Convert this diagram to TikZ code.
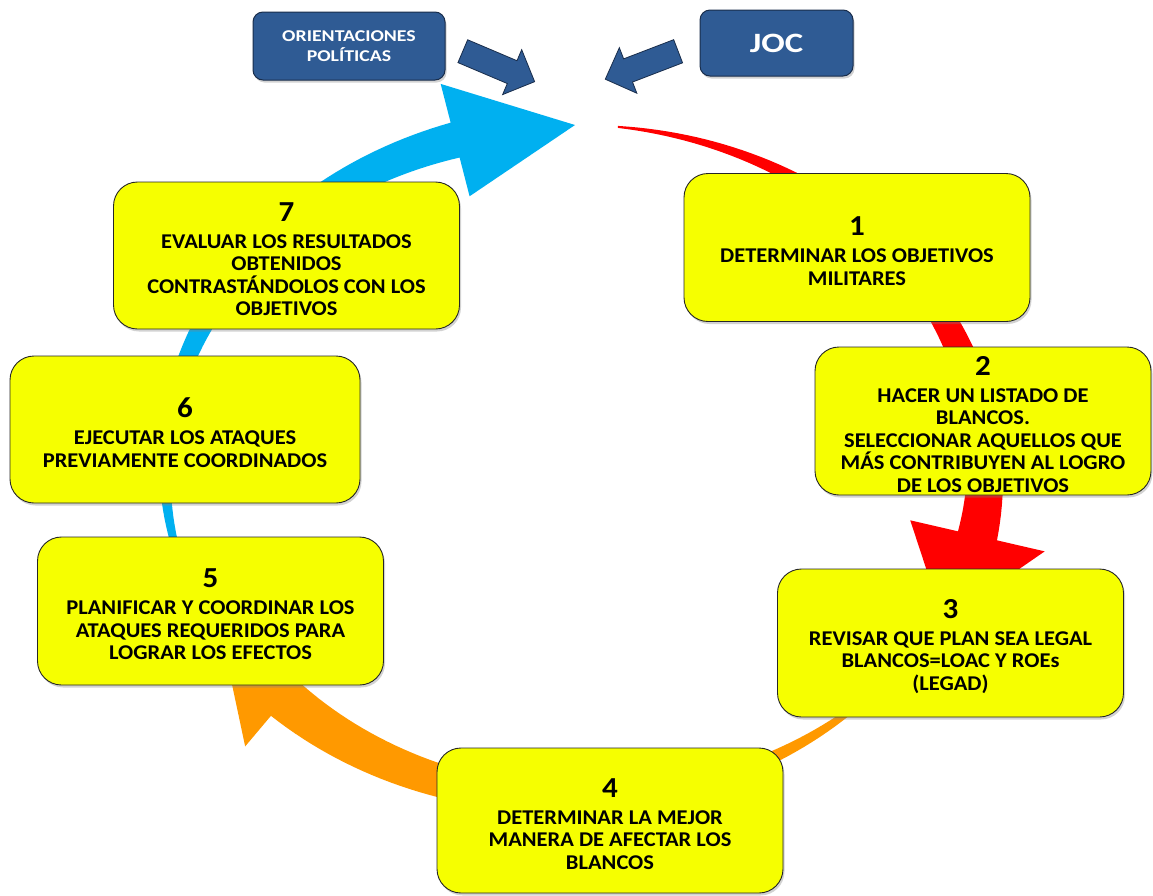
\documentclass[tikz,border=0pt]{standalone}
\usepackage{fontspec}
\newfontfamily\yfont{Carlito}[FakeStretch=1.07]
\newfontfamily\bfont{Carlito}[FakeStretch=1.2]
\newfontfamily\jfont{Carlito}[FakeStretch=1.24]
\usetikzlibrary{shapes.arrows,shadows}
\definecolor{boxyellow}{RGB}{246,255,0}
\definecolor{navy}{RGB}{47,91,148}
\definecolor{navyline}{RGB}{25,45,75}
\definecolor{arcred}{RGB}{255,0,0}
\definecolor{arcorange}{RGB}{255,153,0}
\definecolor{arcblue}{RGB}{0,176,240}
\newcommand\numfont{\fontsize{29}{29}\selectfont}
\newcommand\nm[1]{{\numfont\rule{0pt}{26pt}#1}}
% tapered elliptical arrow: #1 colour, #2 centre y, #3 start angle, #4 head-base angle,
% #5 start width, #6 end width, #7 half head width, #8 tip angle
\newcommand\tarr[8]{%
  \pgfmathsetmacro\bx{575+410*cos(#4)}%
  \pgfmathsetmacro\by{#2-345*sin(#4)}%
  \pgfmathsetmacro\nxx{nx(#4)}%
  \pgfmathsetmacro\nyy{ny(#4)}%
  \pgfmathsetmacro\tx{575+410*cos(#8)}%
  \pgfmathsetmacro\ty{#2-345*sin(#8)}%
  \fill[#1] plot[domain=#3:#4, samples=70, variable=\a]
     ({575+410*cos(\a)+0.5*((#5)+((#6)-(#5))*(\a-(#3))/((#4)-(#3)))*nx(\a)},
      {#2-345*sin(\a)+0.5*((#5)+((#6)-(#5))*(\a-(#3))/((#4)-(#3)))*ny(\a)})
   -- ({\bx+#7*\nxx},{\by+#7*\nyy}) -- (\tx,\ty) -- ({\bx-#7*\nxx},{\by-#7*\nyy})
   -- plot[domain=#4:#3, samples=70, variable=\a]
     ({575+410*cos(\a)-0.5*((#5)+((#6)-(#5))*(\a-(#3))/((#4)-(#3)))*nx(\a)},
      {#2-345*sin(\a)-0.5*((#5)+((#6)-(#5))*(\a-(#3))/((#4)-(#3)))*ny(\a)})
   -- cycle;}
\begin{document}
\begin{tikzpicture}[x=1pt,y=-1pt,
  declare function={nrm(\q)=sqrt((3.45*cos(\q))^2+(4.1*sin(\q))^2);
                    nx(\q)=3.45*cos(\q)/nrm(\q);
                    ny(\q)=-4.1*sin(\q)/nrm(\q);},
  stepbox/.style={rounded corners=24pt, fill=boxyellow, draw=black!85, line width=0.9pt,
    minimum width=346pt, minimum height=148pt, inner sep=0pt, align=center,
    font={\yfont\bfseries\fontsize{21}{22.5}\selectfont},
    drop shadow={shadow xshift=1.5pt, shadow yshift=-2.5pt, opacity=0.35}},
  titlebox/.style={rounded corners=10pt, fill=navy, draw=navyline, line width=1pt,
    inner sep=0pt, align=center, text=white,
    drop shadow={shadow xshift=1.5pt, shadow yshift=-2.5pt, opacity=0.35}},
  blockarrow/.style={single arrow, fill=navy, draw=navyline, line width=0.8pt,
    minimum height=78pt, single arrow head extend=12pt,
    inner xsep=0pt, inner ysep=12pt}]
\useasboundingbox (0,0) rectangle (1153,895);
\fill[white] (0,0) rectangle (1153,895);
% circular arrows
\tarr{arcred}{470}{84}{-11}{2}{40}{69}{-26}
\tarr{arcorange}{455}{-40}{-135}{3}{44}{62}{-150}
\tarr{arcblue}{470}{200}{107}{5}{36}{58}{90}
% steps
\node[stepbox] (s1) at (857,247.5) {\nm{1}\\[4.5pt]DETERMINAR LOS OBJETIVOS\\MILITARES};
\node[stepbox, minimum width=336pt] (s2) at (983,421) {\nm{2}\\[4.5pt]HACER UN LISTADO DE\\BLANCOS.\\SELECCIONAR AQUELLOS QUE\\MÁS CONTRIBUYEN AL LOGRO\\DE LOS OBJETIVOS};
\node[stepbox] (s3) at (950.5,643) {\nm{3}\\[4.5pt]REVISAR QUE PLAN SEA LEGAL\\BLANCOS=LOAC Y ROEs\\(LEGAD)};
\node[stepbox, minimum height=145pt] (s4) at (610,820.5) {\nm{4}\\[4.5pt]DETERMINAR LA MEJOR\\MANERA DE AFECTAR LOS\\BLANCOS};
\node[stepbox] (s5) at (210.5,611) {\nm{5}\\[4.5pt]PLANIFICAR Y COORDINAR LOS\\ATAQUES REQUERIDOS PARA\\LOGRAR LOS EFECTOS};
\node[stepbox, minimum width=350pt, minimum height=147pt] (s6) at (185,429.5) {\nm{6}\\[4.5pt]EJECUTAR LOS ATAQUES\\PREVIAMENTE COORDINADOS};
\node[stepbox, minimum height=147pt] (s7) at (286.5,255.5) {\nm{7}\\[4.5pt]EVALUAR LOS RESULTADOS\\OBTENIDOS\\CONTRASTÁNDOLOS CON LOS\\OBJETIVOS};
% inputs
\node[titlebox, minimum width=192pt, minimum height=68pt,
  font={\bfont\bfseries\fontsize{16.5}{20}\selectfont}] (pol) at (349,46) {ORIENTACIONES\\POLÍTICAS};
\node[titlebox, minimum width=153pt, minimum height=66pt,
  font={\jfont\bfseries\fontsize{28}{30}\selectfont}] (joc) at (776.5,43) {JOC};
\node[blockarrow, rotate=-23] (pa) at (493,64) {};
\node[blockarrow, rotate=201] (ja) at (647.5,63) {};
\end{tikzpicture}
\end{document}
